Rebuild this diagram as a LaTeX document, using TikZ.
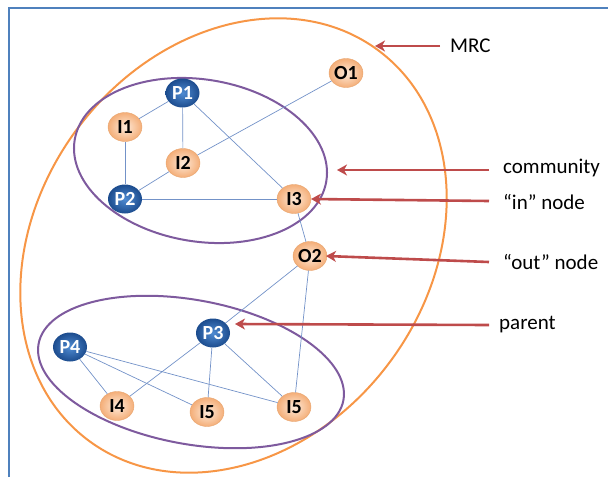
\documentclass[tikz,border=0pt]{standalone}
\usepackage{fontspec}
\setmainfont{Carlito}
\usetikzlibrary{arrows.meta,shapes.geometric}

\definecolor{frameblue}{HTML}{4F81BD}
\definecolor{edgeblue}{HTML}{7392C8}
\definecolor{mrcorange}{HTML}{F79646}
\definecolor{commpurple}{HTML}{7E5A9E}
\definecolor{arrowred}{HTML}{BE4B4B}
\definecolor{blueIn}{HTML}{4F8BD2}
\definecolor{blueOut}{HTML}{1C4C8E}
\definecolor{peachIn}{HTML}{FEEAD9}
\definecolor{peachOut}{HTML}{F4AE78}
\definecolor{peachRim}{HTML}{E8A56F}

\tikzset{
  gnode/.style={ellipse, minimum width=34pt, minimum height=29pt, inner sep=0pt,
    font=\fontsize{20}{20}\selectfont\bfseries},
  pnode/.style={gnode, inner color=blueIn, outer color=blueOut, text=white},
  inode/.style={gnode, inner color=peachIn, outer color=peachOut, draw=peachRim,
    line width=0.4pt, text=black},
  link/.style={edgeblue, line width=0.7pt},
  mrcline/.style={mrcorange, line width=2pt},
  commline/.style={commpurple, line width=2pt},
  callout/.style={arrowred, line width=2.6pt, -{Stealth[length=10pt,width=11pt,inset=3pt]}},
  lbl/.style={anchor=west, inner sep=0pt, font=\fontsize{21}{21}\selectfont},
}

\begin{document}
\begin{tikzpicture}[x=1pt,y=-1pt]
\useasboundingbox (0,0) rectangle (608,477);

% frame (top and left edges)
\draw[frameblue, line width=2pt] (9,477) -- (9,8) -- (608,8);

% MRC boundary and the two communities
\draw[mrcline, rotate around={53.5:(233.5,245.5)}]
  (233.5,245.5) ellipse [x radius=243pt, y radius=195pt];
\draw[commline, rotate around={-9.3:(200.5,160.5)}]
  (200.5,160.5) ellipse [x radius=127.5pt, y radius=81pt];
\draw[commline, rotate around={-10.5:(191,372)}]
  (191,372) ellipse [x radius=155pt, y radius=72pt];

% graph nodes
\node[pnode] (P1) at (182.5,93) {P1};
\node[inode] (I1) at (125,127) {I1};
\node[inode] (I2) at (183,163) {I2};
\node[pnode] (P2) at (125,199) {P2};
\node[inode] (I3) at (294,199) {I3};
\node[inode] (O1) at (346,73) {O1};
\node[inode] (O2) at (310,256) {O2};
\node[pnode] (P3) at (213,333) {P3};
\node[pnode] (P4) at (70,347) {P4};
\node[inode] (I4) at (117,406) {I4};
\node[inode] (I5a) at (207,412) {I5};
\node[inode] (I5b) at (294,407) {I5};

% edges
\draw[link] (P1) -- (I1);
\draw[link] (P1) -- (I2);
\draw[link] (P1) -- (I3);
\draw[link] (I1) -- (P2);
\draw[link] (I2) -- (P2);
\draw[link] (I2) -- (O1);
\draw[link] (P2) -- (I3);
\draw[link] (I3) -- (O2);
\draw[link] (O2) -- (P3);
\draw[link] (O2) -- (I5b);
\draw[link] (P3) -- (I4);
\draw[link] (P3) -- (I5a);
\draw[link] (P3) -- (I5b);
\draw[link] (P4) -- (I4);
\draw[link] (P4) -- (I5a);
\draw[link] (P4) -- (I5b);

% callout labels
\node[lbl] (tMRC) at (450,46) {MRC};
\node[lbl] (tComm) at (503,168) {community};
\node[lbl] (tIn) at (503,202) {“in” node};
\node[lbl] (tOut) at (503,262) {“out” node};
\node[lbl] (tPar) at (499,325) {parent};

% callout tips
\coordinate (aMRC) at (375,46);
\coordinate (aComm) at (337,170);
\coordinate (aIn) at (311,199);
\coordinate (aOut) at (326,256);
\coordinate (aPar) at (235,324);

\draw[callout] ([xshift=-10pt]tMRC.west) -- (aMRC);
\draw[callout] ([xshift=-14pt,yshift=-2pt]tComm.west) -- (aComm);
\draw[callout] ([xshift=-14pt,yshift=1pt]tIn.west) -- (aIn);
\draw[callout] ([xshift=-14pt]tOut.west) -- (aOut);
\draw[callout] ([xshift=-10pt]tPar.west) -- (aPar);
\end{tikzpicture}
\end{document}
